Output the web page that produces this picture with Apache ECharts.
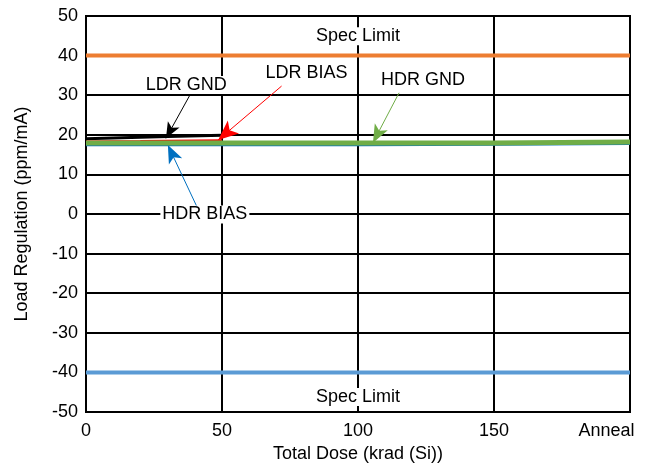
<!DOCTYPE html>
<html>
<head>
<meta charset="utf-8">
<script src="https://cdn.jsdelivr.net/npm/echarts@6/dist/echarts.min.js"></script>
<style>
html,body{margin:0;padding:0;background:#fff;}
#chart{width:647px;height:468px;}
</style>
</head>
<body>
<div id="chart"></div>
<script>
// ---- data ----
const xTicks = [0, 50, 100, 150, 200];
const xTickLabels = ['0', '50', '100', '150', 'Anneal'];
const yTicks = [-50, -40, -30, -20, -10, 0, 10, 20, 30, 40, 50];

const ldrX = [0, 20, 30, 50];
const ldrGnd = [19.0, 19.4, 19.6, 19.9];
const ldrBias = [18.2, 18.3, 18.4, 18.5];

const hdrX = [0, 50, 100, 150, 200];
const hdrGnd = [17.9, 17.9, 17.9, 17.9, 18.2];
const hdrBias = [17.5, 17.5, 17.5, 17.6, 17.8];

const specX = [0, 200];
const specUpper = [40, 40];
const specLower = [-40, -40];

// annotation labels: [text, x, y]
const noteLabels = [
  ['LDR GND', 36.9, 32.6],
  ['LDR BIAS', 81.1, 35.5],
  ['HDR GND', 123.9, 33.8],
  ['HDR BIAS', 43.7, -0.1],
  ['Spec Limit', 100, 44.9],
  ['Spec Limit', 100, -46.2]
];
// annotation arrows: [fromX, fromY, toX, toY]
const arrowLdrGnd = [38.9, 30.9, 29.4, 19.1];
const arrowLdrBias = [71.9, 32.3, 48.6, 18.7];
const arrowHdrGnd = [115.1, 30.6, 105.5, 18.0];
const arrowHdrBias = [40.8, 1.8, 30.1, 17.4];

// ---- build ----
const zip = (xs, ys) => xs.map((x, i) => [x, ys[i]]);
const FONT = 'Liberation Sans, Arial, sans-serif';

function arrowSeries(a, color, size) {
  return {
    type: 'line', data: [], silent: true, z: 10,
    markLine: {
      silent: true, animation: false,
      symbol: ['none', 'arrow'], symbolSize: size,
      label: {show: false},
      lineStyle: {color: color, width: 1, type: 'solid', opacity: 1},
      data: [[{coord: [a[0], a[1]]}, {coord: [a[2], a[3]]}]]
    }
  };
}

const chart = echarts.init(document.getElementById('chart'), null, {renderer: 'canvas'});
chart.setOption({
  animation: false,
  backgroundColor: '#fff',
  grid: {left: 86, right: 17, top: 16, bottom: 56, show: true, borderColor: '#000', borderWidth: 2},
  xAxis: {
    type: 'value', min: 0, max: 200, interval: 50,
    axisLine: {show: true, lineStyle: {color: '#000', width: 2}},
    axisTick: {show: false},
    splitLine: {show: true, lineStyle: {color: '#000', width: 2}},
    axisLabel: {
      color: '#000', fontFamily: FONT, fontSize: 18, margin: 10,
      formatter: v => {
        const i = xTicks.indexOf(v);
        const t = i >= 0 ? xTickLabels[i] : '';
        return v === 200 ? '{an|' + t + '}' : t;
      },
      rich: {an: {fontFamily: FONT, fontSize: 18, color: '#000', padding: [0, 47, 0, 0]}}
    },
    name: 'Total Dose (krad (Si))', nameLocation: 'middle', nameGap: 29,
    nameTextStyle: {color: '#000', fontFamily: FONT, fontSize: 18}
  },
  yAxis: {
    type: 'value', min: -50, max: 50, interval: 10,
    axisLine: {show: true, lineStyle: {color: '#000', width: 2}},
    axisTick: {show: false},
    splitLine: {show: true, lineStyle: {color: '#000', width: 2}},
    axisLabel: {color: '#000', fontFamily: FONT, fontSize: 18, margin: 8},
    name: 'Load Regulation (ppm/mA)', nameLocation: 'middle', nameGap: 55,
    nameTextStyle: {color: '#000', fontFamily: FONT, fontSize: 18}
  },
  series: [
    {type: 'line', data: zip(specX, specUpper), symbol: 'none', lineStyle: {color: '#ED7D31', width: 4}, z: 3},
    {type: 'line', data: zip(specX, specLower), symbol: 'none', lineStyle: {color: '#5B9BD5', width: 4}, z: 3},
    {type: 'line', name: 'LDR GND', data: zip(ldrX, ldrGnd), symbol: 'none', lineStyle: {color: '#000', width: 3}, z: 4},
    {type: 'line', name: 'LDR BIAS', data: zip(ldrX, ldrBias), symbol: 'none', lineStyle: {color: '#FF0000', width: 3}, z: 5},
    {type: 'line', name: 'HDR BIAS', data: zip(hdrX, hdrBias), symbol: 'none', lineStyle: {color: '#0070C0', width: 3}, z: 6},
    {type: 'line', name: 'HDR GND', data: zip(hdrX, hdrGnd), symbol: 'none', lineStyle: {color: '#70AD47', width: 5}, z: 7},
    arrowSeries(arrowLdrGnd, '#000000', [10, 16]),
    arrowSeries(arrowLdrBias, '#FF0000', [13, 20]),
    arrowSeries(arrowHdrGnd, '#70AD47', [11, 18]),
    arrowSeries(arrowHdrBias, '#0070C0', [11, 18]),
    {
      type: 'scatter', symbolSize: 0, silent: true, z: 12,
      itemStyle: {opacity: 1},
      data: noteLabels.map(n => ({name: n[0], value: [n[1], n[2]]})),
      label: {
        show: true, position: 'inside', formatter: p => p.name, opacity: 1,
        color: '#000', fontFamily: FONT, fontSize: 18,
        backgroundColor: '#fff', padding: [0, 2]
      }
    }
  ]
});
</script>
</body>
</html>
